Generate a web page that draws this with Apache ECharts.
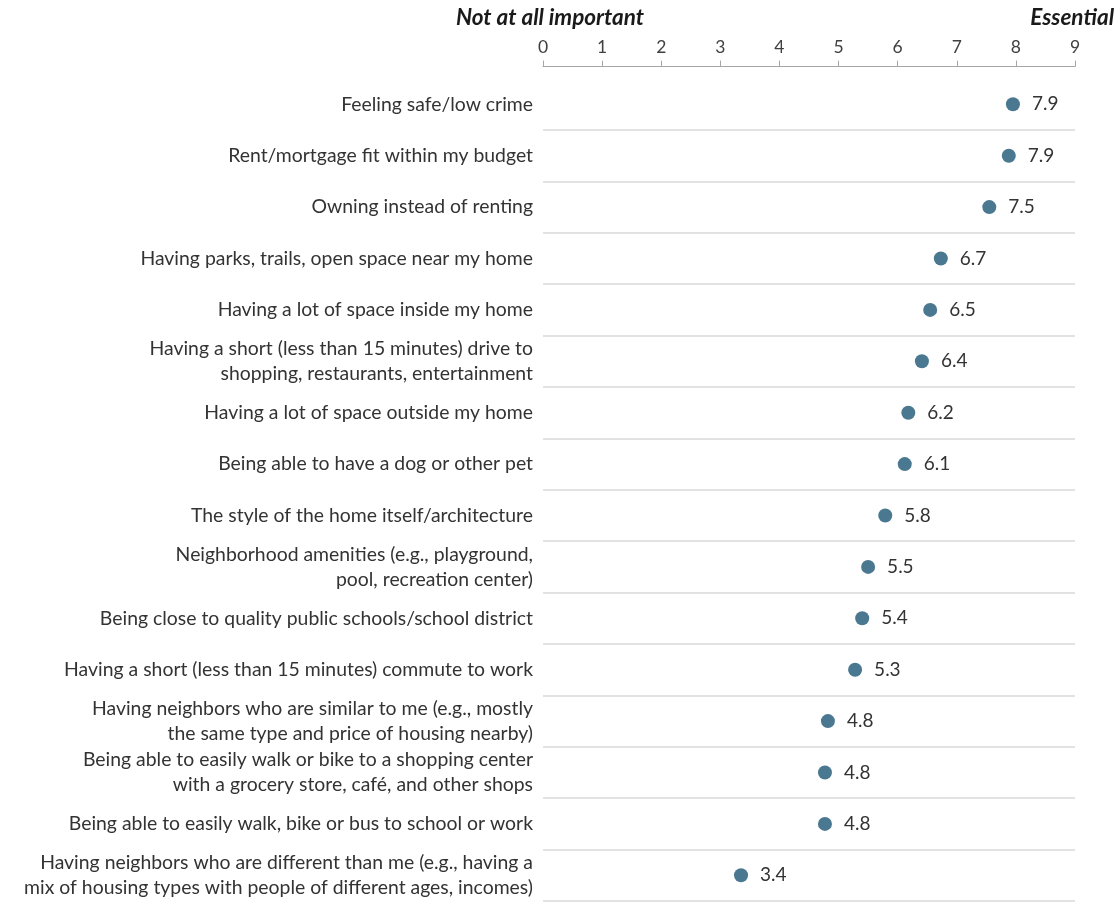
<!DOCTYPE html>
<html><head><meta charset="utf-8">
<script src="https://cdn.jsdelivr.net/npm/echarts@6/dist/echarts.min.js"></script>
<style>html,body{margin:0;padding:0;background:#fff}#c{width:1120px;height:905px}</style>
</head><body><div id="c"></div>
<script>
const categories = [
  "Feeling safe/low crime",
  "Rent/mortgage fit within my budget",
  "Owning instead of renting",
  "Having parks, trails, open space near my home",
  "Having a lot of space inside my home",
  "Having a short (less than 15 minutes) drive to\nshopping, restaurants, entertainment",
  "Having a lot of space outside my home",
  "Being able to have a dog or other pet",
  "The style of the home itself/architecture",
  "Neighborhood amenities (e.g., playground,\npool, recreation center)",
  "Being close to quality public schools/school district",
  "Having a short (less than 15 minutes) commute to work",
  "Having neighbors who are similar to me (e.g., mostly\nthe same type and price of housing nearby)",
  "Being able to easily walk or bike to a shopping center\nwith a grocery store, café, and other shops",
  "Being able to easily walk, bike or bus to school or work",
  "Having neighbors who are different than me (e.g., having a\nmix of housing types with people of different ages, incomes)"
];
const values = [7.95, 7.88, 7.55, 6.73, 6.55, 6.41, 6.18, 6.12, 5.79, 5.50, 5.40, 5.28, 4.82, 4.77, 4.77, 3.35];
const valueLabels = ["7.9","7.9","7.5","6.7","6.5","6.4","6.2","6.1","5.8","5.5","5.4","5.3","4.8","4.8","4.8","3.4"];
const xTicks = [0,1,2,3,4,5,6,7,8,9];
const scaleLeftLabel = "Not at all important";
const scaleRightLabel = "Essential";

const FONT = "Lato";
const chart = echarts.init(document.getElementById('c'), null, {renderer:'canvas'});
chart.setOption({
  backgroundColor: '#fff',
  animation: false,
  title: [
    {text: scaleLeftLabel, left: 456, top: 6, padding: 0, textStyle:{fontFamily:FONT, fontSize:22.5, fontWeight:'bold', fontStyle:'italic', color:'#1a1a1a'}},
    {text: scaleRightLabel, right: 6, top: 6, padding: 0, textStyle:{fontFamily:FONT, fontSize:22.5, fontWeight:'bold', fontStyle:'italic', color:'#1a1a1a'}}
  ],
  grid: {left: 543, right: 45, top: 78.6, bottom: 4, containLabel: false},
  xAxis: {
    type: 'value', position: 'top', min: xTicks[0], max: xTicks[xTicks.length-1], interval: 1,
    offset: 12,
    axisLine: {show: true, lineStyle:{color:'#a6a6a6', width:1}},
    axisTick: {show: true, length: 6, lineStyle:{color:'#a6a6a6'}},
    axisLabel: {fontFamily:FONT, fontSize:17.5, color:'#404040', margin: 10},
    splitLine: {show: false}
  },
  yAxis: {
    type: 'category', inverse: true, data: categories,
    axisLine: {show:false}, axisTick:{show:false},
    axisLabel: {fontFamily:FONT, fontSize:19.4, color:'#333', margin: 10, lineHeight: 25, align:'right'},
    splitLine: {show: true, showMinLine: false, lineStyle:{color:'#d9d9d9', width:1.5}}
  },
  series: [{
    type: 'scatter',
    data: values,
    symbol: 'circle', symbolSize: 14,
    itemStyle: {color: '#4a7890', opacity: 1},
    label: {show: true, position: 'right', distance: 12, fontFamily:FONT, fontSize:19, color:'#333',
      formatter: p => valueLabels[p.dataIndex]}
  }]
});
</script></body></html>
